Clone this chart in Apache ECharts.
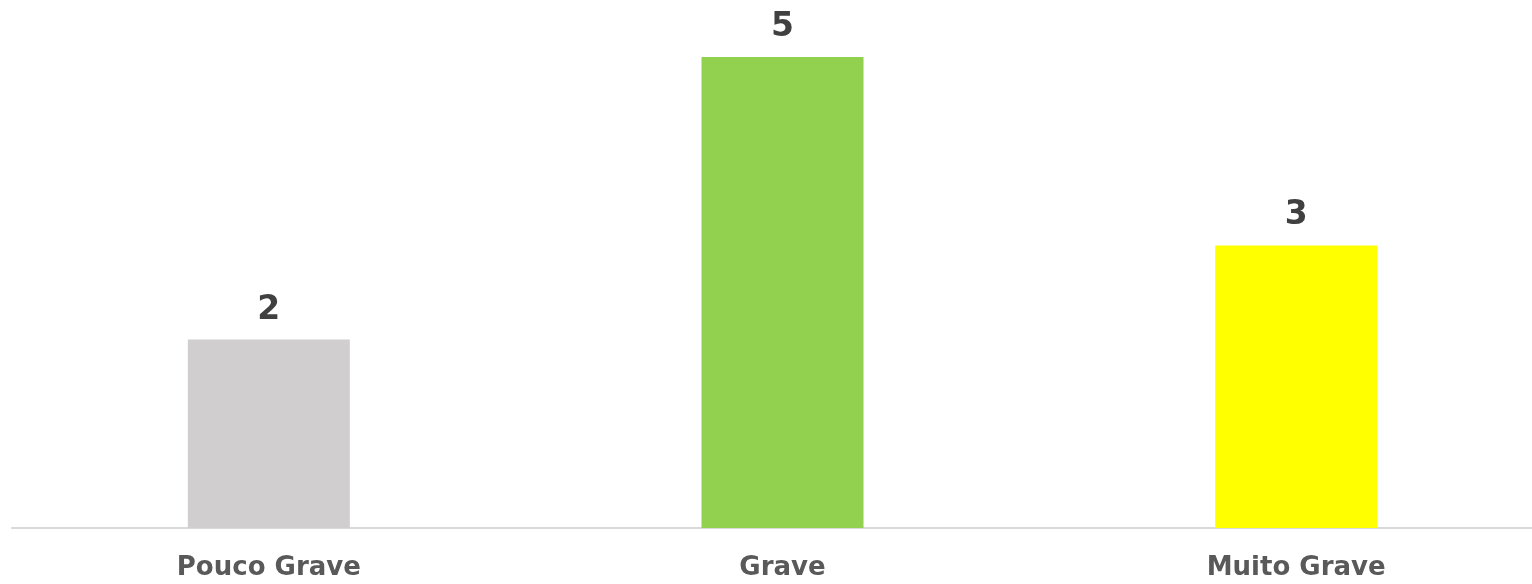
<!DOCTYPE html>
<html>
<head>
<meta charset="utf-8">
<script src="https://cdn.jsdelivr.net/npm/echarts@6/dist/echarts.min.js"></script>
<style>
  html, body { margin: 0; padding: 0; background: #fff; overflow: hidden; }
  #chart { width: 1560px; height: 584px; }
</style>
</head>
<body>
<div id="chart"></div>
<script>
const categories = ['Pouco Grave', 'Grave', 'Muito Grave']
const values = [2, 5, 3]
const barColors = ['#d0cece', '#92d050', '#ffff00']

const myChart = echarts.init(document.getElementById('chart'))
const option = {
  animation: false,
  grid: {
    left: 12,
    right: 7,
    top: 57,
    bottom: 56
  },
  xAxis: {
    type: 'category',
    data: categories,
    axisLine: {
      show: true,
      lineStyle: { color: '#d9d9d9', width: 2 }
    },
    axisTick: { show: false },
    axisLabel: {
      margin: 27,
      color: '#595959',
      fontFamily: 'DejaVu Sans',
      fontWeight: 'bold',
      fontSize: 26
    }
  },
  yAxis: {
    type: 'value',
    min: 0,
    max: 5,
    show: false,
    splitLine: { show: false }
  },
  series: [{
    type: 'bar',
    barWidth: 162,
    data: values.map((v, i) => ({ value: v, itemStyle: { color: barColors[i] } })),
    label: {
      show: true,
      position: 'top',
      distance: 13,
      color: '#404040',
      fontFamily: 'DejaVu Sans',
      fontWeight: 'bold',
      fontSize: 33
    }
  }]
}
myChart.setOption(option)
</script>
</body>
</html>
